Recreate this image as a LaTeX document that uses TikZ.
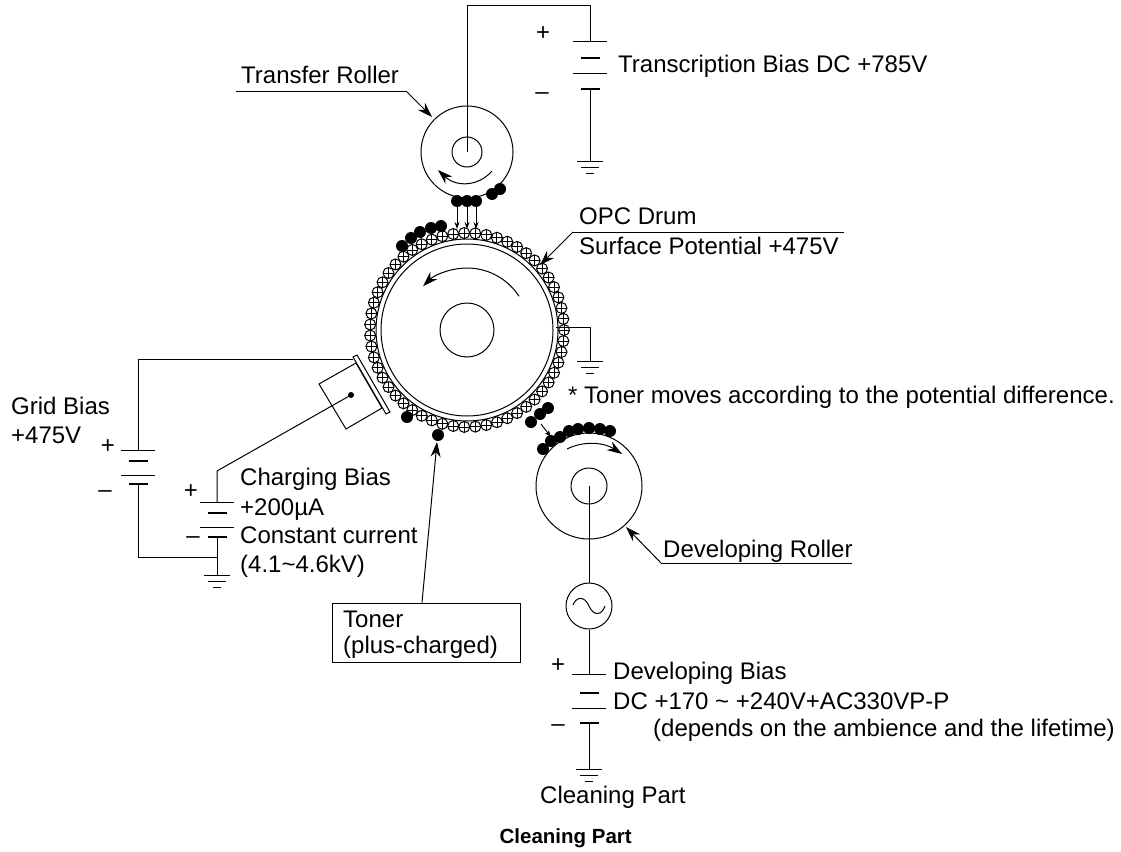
\documentclass[tikz,border=0pt]{standalone}
\usepackage{fontspec}
\setmainfont{Liberation Sans}
\usetikzlibrary{arrows.meta,calc}
\tikzset{lab/.style={font=\fontsize{24}{28}\selectfont,anchor=base west,inner sep=0pt},
         sign/.style={font=\fontsize{24}{28}\selectfont,inner sep=0pt},
         wire/.style={line width=1pt},
         leader/.style={line width=1pt,-{Stealth[length=15pt,width=10pt]}},
         smalltip/.style={line width=.9pt,-{Stealth[length=7pt,width=5pt]}},
         toner/.style={circle,fill=black,inner sep=0pt,minimum size=12pt},
         bead/.style={circle,draw,line width=1pt,fill=white,inner sep=0pt,minimum size=11pt,
                      path picture={\draw[line width=.9pt] (path picture bounding box.north)--(path picture bounding box.south)
                      (path picture bounding box.west)--(path picture bounding box.east);}}}
% battery: x, then the four plates from the top
\newcommand{\battery}[5]{%
  \draw[line width=1pt] (#1-17,#2) -- (#1+17,#2) (#1-17,#4) -- (#1+17,#4);
  \draw[line width=2.2pt] (#1-9.5,#3) -- (#1+9.5,#3) (#1-9.5,#5) -- (#1+9.5,#5);}
\newcommand{\earth}[2]{%
  \draw[line width=1pt] (#1-13,#2) -- (#1+13,#2) (#1-9,#2+6) -- (#1+9,#2+6) (#1-4,#2+12) -- (#1+4,#2+12);}
\begin{document}
\begin{tikzpicture}[x=1pt,y=-1pt]
\useasboundingbox (0,0) rectangle (1121,851);
% drum
\coordinate (drum) at (467,330);
\draw[wire] (drum) circle (91) circle (86) circle (27);
\foreach \i in {0,...,54} \node[bead] (bead\i) at ($(drum)+(\i*6.545:97)$) {};
\draw[line width=1pt,-{Stealth[length=15pt,width=10pt]}] ($(drum)+(-33:62)$) arc[start angle=-33,end angle=-135,radius=62];
\coordinate (drumtap) at (556,327);
\coordinate (drumearth) at (590,361);
\draw[wire] (drumtap) -| (drumearth);
\earth{590}{361}
% transfer roller
\coordinate (transfer) at (467,152);
\coordinate (transfertop) at (590,42);
\coordinate (transferlow) at (590,89);
\coordinate (transferearth) at (590,161);
\draw[wire] (transfer) circle (46) circle (15);
\draw[wire] (transfer) -- (467,6) -| (transfertop);
\draw[wire] (transferlow) -- (transferearth);
\battery{590}{42}{58}{73}{89}
\earth{590}{161}
\draw[line width=1pt,-{Stealth[length=15pt,width=10pt]}] (492,171) .. controls (478,187) and (456,187) .. (438,170);
\foreach \x/\y [count=\n] in {457/201,467/201,476/201,492/194,500/189} \node[toner] (up\n) at (\x,\y) {};
\foreach \n in {1,2,3} \draw[smalltip] (up\n.center) ++(0,5) -- ++(0,23);
\foreach \x/\y [count=\n] in {402/246,411/238,420/232,431/228,441/226,407/417,438/435} \node[toner] (top\n) at (\x,\y) {};
% charger
\coordinate (gridtop) at (138,450);
\coordinate (gridlow) at (138,484);
\coordinate (chargetop) at (217,502);
\coordinate (chargelow) at (217,537);
\coordinate (chargeearth) at (217,575);
\coordinate (chargebend) at (217,471);
\coordinate (plate) at (353,359);
\node[circle,fill=black,inner sep=0pt,minimum size=6pt] (wiretip) at (351,395) {};
\draw[wire,fill=white] (319,384) -- (356,363) -- (382,408) -- (346,429) -- cycle;
\draw[wire,fill=white] (353,357) -- (357,355) -- (390,412) -- (386,414) -- cycle;
\draw[wire] (gridtop) |- (plate);
\draw[wire] (wiretip.center) -- (chargebend) -- (chargetop);
\draw[wire] (chargelow) -- (chargeearth);
\draw[wire] (gridlow) |- (217,557);
\node[circle,fill=black,inner sep=0pt,minimum size=6pt] at (wiretip) {};
\battery{138}{450}{461}{475}{484}
\battery{217}{502}{513}{527}{537}
\earth{217}{575}
% developing roller
\coordinate (dev) at (589,486);
\node[circle,draw,line width=1pt,inner sep=0pt,minimum size=46pt] (ac) at (589,606) {};
\coordinate (devtop) at (589,674);
\coordinate (devlow) at (589,723);
\coordinate (devearth) at (589,769);
\draw[wire] (dev) circle (53) circle (18);
\draw[wire] (dev) -- (ac.north) (ac.south) -- (devtop) (devlow) -- (devearth);
\draw[line width=1pt] (573,605) .. controls (576,597) and (584,595) .. (589,606) .. controls (594,617) and (602,615) .. (605,606);
\battery{589}{674}{693}{708}{723}
\earth{589}{769}
\draw[line width=1pt,-{Stealth[length=15pt,width=10pt]}] (567,449) .. controls (585,440) and (605,443) .. (622,454);
\foreach \x/\y [count=\n] in {543/449,551/441,560/437,569/431,578/429,589/428,600/429,610/431,531/422,540/414,548/408} \node[toner] (dev\n) at (\x,\y) {};
\coordinate (hopfrom) at (541,424);
\coordinate (hopto) at (551,437);
\draw[smalltip] (hopfrom) -- (hopto);
% labels
\node[lab] (transferlab) at (241,84) {Transfer Roller};
\coordinate (transferend) at (406,91);
\coordinate (transfertip) at (432,117);
\draw[line width=1pt] (236,91) -- (transferend);
\draw[leader] (transferend) -- (transfertip);
\node[lab] (biaslab) at (618,73) {Transcription Bias DC +785V};
\node[sign] (p1) at (543,34) {+};
\node[sign] (m1) at (542,96) {\textendash};
\node[lab] (opclab) at (579,224) {OPC Drum};
\node[lab] (potlab) at (579,254) {Surface Potential +475V};
\coordinate (opcend) at (573,232);
\coordinate (opctip) at (540,265);
\draw[line width=1pt] (opcend) -- (844,232);
\draw[leader] (opcend) -- (opctip);
\node[lab] (notelab) at (568,403) {* Toner moves according to the potential difference.};
\node[lab] (gridlab) at (11,414) {Grid Bias};
\node[lab] (gridval) at (11,443) {+475V};
\node[sign] (p2) at (108,447) {+};
\node[sign] (m2) at (105,494) {\textendash};
\node[sign] (p3) at (191,492) {+};
\node[sign] (m3) at (193,540) {\textendash};
\node[lab] (chargelab) at (240,485) {Charging Bias};
\node[lab] (chargeval) at (240,515) {+200µA};
\node[lab] (constlab) at (240,543) {Constant current};
\node[lab] (kvlab) at (240,572) {(4.1\textasciitilde 4.6kV)};
\node[draw,line width=1pt,minimum width=188pt,minimum height=59pt,inner sep=0pt] (tonerbox) at (426,632.5) {};
\node[lab] (tonerlab) at (343,627) {Toner};
\node[lab] (pluslab) at (343,653) {(plus-charged)};
\coordinate (tonertip) at (437,442);
\draw[leader] (tonerbox.north -| 422,0) -- (tonertip);
\node[lab] (devlab) at (663,557) {Developing Roller};
\coordinate (devend) at (661,563);
\coordinate (devtip) at (626,527);
\draw[line width=1pt] (devend) -- (852,563);
\draw[leader] (devend) -- (devtip);
\node[sign] (p4) at (558,666) {+};
\node[sign] (m4) at (558,728) {\textendash};
\node[lab] (devbias) at (613,679) {Developing Bias};
\node[lab] (devdc) at (613,709) {DC +170 \textasciitilde{} +240V+AC330VP-P};
\node[lab] (devnote) at (653,736) {(depends on the ambience and the lifetime)};
\node[lab] (cleanlab) at (540,803) {Cleaning Part};
\node[font=\fontsize{20.5}{24}\selectfont\bfseries,anchor=base east,inner sep=0pt] (caption) at (632,843) {Cleaning Part};
\end{tikzpicture}
\end{document}
